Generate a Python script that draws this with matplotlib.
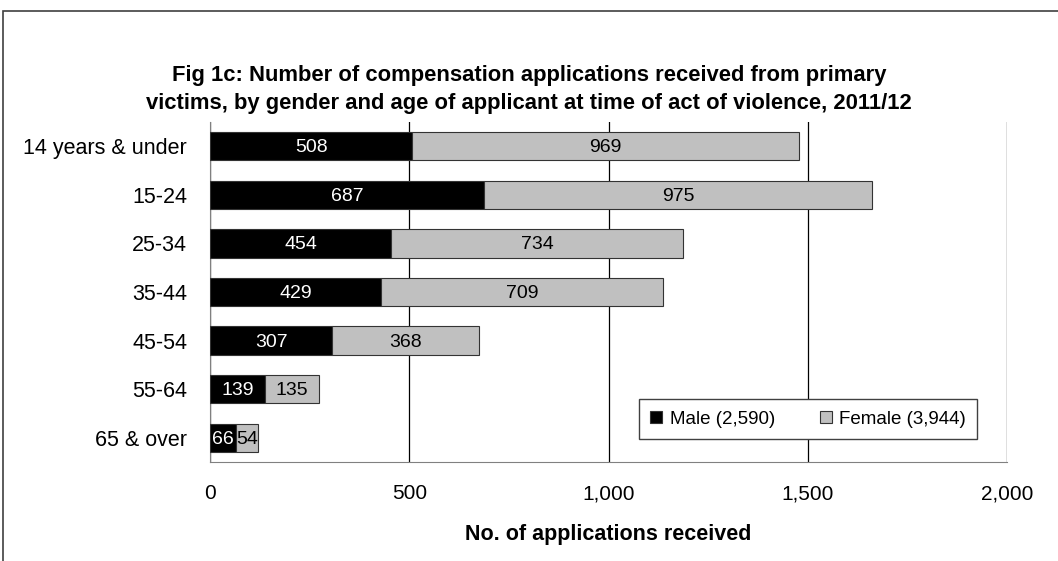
import matplotlib.pyplot as plt
from matplotlib.patches import Rectangle

plt.rcParams['font.family'] = ['Liberation Sans', 'DejaVu Sans']

# === data ===
ages = ["14 years & under", "15-24", "25-34", "35-44", "45-54", "55-64", "65 & over"]
male = [508, 687, 454, 429, 307, 139, 66]
female = [969, 975, 734, 709, 368, 135, 54]
xticks = [0, 500, 1000, 1500, 2000]
xtick_labels = ["0", "500", "1,000", "1,500", "2,000"]

fig = plt.figure(figsize=(10.58, 5.61), dpi=100)
ax = fig.add_axes([210 / 1058, 1 - 462 / 561, (1007 - 210) / 1058, (462 - 122) / 561])

# outer frame (only left and top edges visible)
fig.patches.append(Rectangle((3 / 1058, -0.1), 1.2, 1 - 11 / 561 + 0.1,
                             transform=fig.transFigure, fill=False,
                             edgecolor='#404040', linewidth=1.2))

y = list(range(len(ages)))
h = 0.58
ax.barh(y, male, height=h, color='black', edgecolor='#333333', linewidth=0.8,
        label="Male (2,590)", zorder=3)
ax.barh(y, female, left=male, height=h, color='#c0c0c0', edgecolor='#333333',
        linewidth=0.8, label="Female (3,944)", zorder=3)

for i in y:
    ax.text(male[i] / 2, i + 0.03, str(male[i]), color='white', ha='center', va='center',
            fontsize=14, zorder=4)
    ax.text(male[i] + female[i] / 2, i + 0.03, str(female[i]), color='black', ha='center',
            va='center', fontsize=14, zorder=4)

ax.set_xlim(0, 2000)
ax.set_ylim(len(ages) - 0.5, -0.5)
ax.set_yticks(y)
ax.set_yticklabels(ages, fontsize=15.5)
ax.set_xticks(xticks)
ax.set_xticklabels(xtick_labels, fontsize=15)
ax.tick_params(length=0)
ax.tick_params(axis='y', pad=16.5)
ax.tick_params(axis='x', pad=16)
ax.xaxis.grid(True, color='black', linewidth=0.9, zorder=0)
ax.spines['top'].set_visible(False)
ax.spines['right'].set_visible(False)
ax.spines['left'].set_color('#808080')
ax.spines['bottom'].set_color('#808080')

ax.set_xlabel("No. of applications received", fontsize=15.5, fontweight='bold', labelpad=15)

fig.text(0.5, 1 - 89.5 / 561, "Fig 1c: Number of compensation applications received from primary\n"
         "victims, by gender and age of applicant at time of act of violence, 2011/12",
         ha='center', va='center', fontsize=15.8, fontweight='bold', linespacing=1.5)

leg = ax.legend(loc='center', bbox_to_anchor=(((638 + 978) / 2 - 210) / 797, (462 - 419) / 340),
                ncol=2, fontsize=13.5, frameon=True, fancybox=False, edgecolor='#404040',
                framealpha=1.0, handlelength=0.65, handleheight=0.65, handletextpad=0.4,
                columnspacing=2.4, borderpad=0.6)
leg.get_frame().set_linewidth(1.0)

fig.savefig("out.png", dpi=100)
